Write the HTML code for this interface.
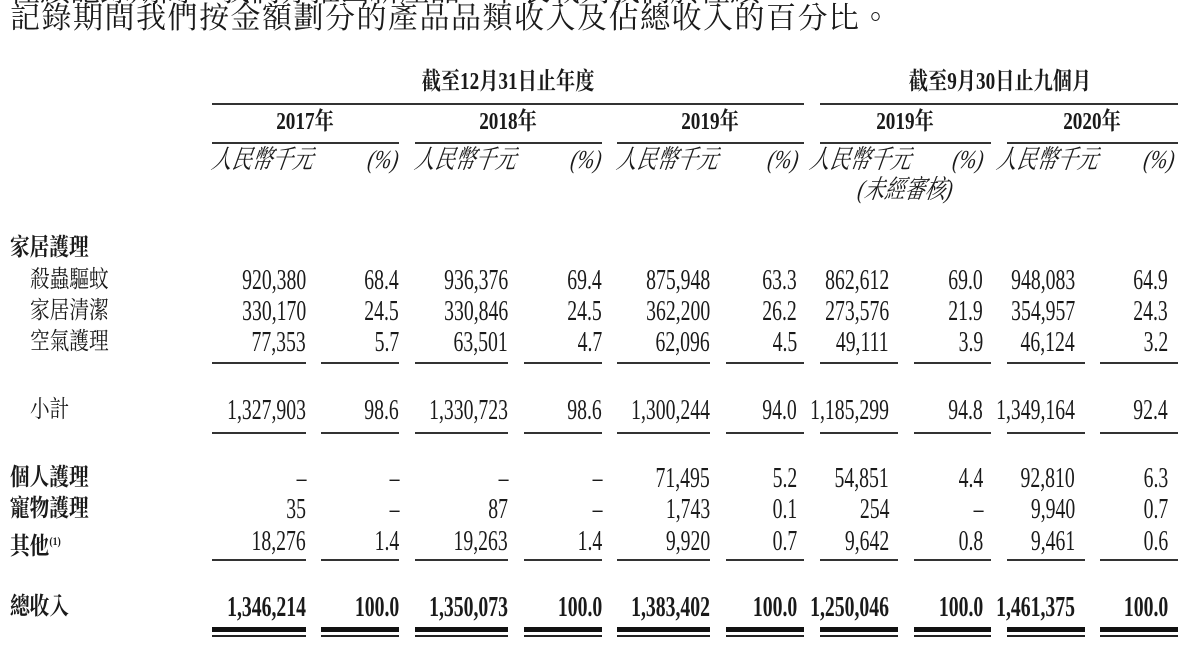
<!DOCTYPE html>
<html><head><meta charset="utf-8"><style>
body{margin:0;width:1193px;height:649px;background:#fff;position:relative;overflow:hidden;color:#1a1a1a}
div{position:absolute;white-space:nowrap}
.n{font-family:"Liberation Serif","Noto Serif CJK SC",serif;font-size:29px;line-height:32px;transform:scaleX(.68);transform-origin:right center}
.b{font-weight:bold}
.l{font-family:"Liberation Serif","Noto Serif CJK TC","Noto Serif CJK SC",serif;font-size:24px;line-height:32px;transform:scaleX(.82);transform-origin:left center}
.c{font-family:"Liberation Serif","Noto Serif CJK SC",serif;font-size:24px;line-height:32px;font-weight:bold;transform:translateX(-50%) scaleX(.8)}
.u{font-family:"Liberation Serif","Noto Serif CJK TC","Noto Serif CJK SC",serif;font-size:26px;line-height:30px;font-style:italic;transform:scaleX(.78) skewX(-12deg);transform-origin:left center}
.ln{background:#333;height:2px}
.t{font-family:"Liberation Serif","Noto Serif CJK TC","Noto Serif CJK SC",serif;font-size:30px;line-height:36px}
</style></head><body>
<div class="t" style="left:10px;top:-26px">往績記錄期間，我們亦推出新產品。下表載列我們於往績</div>
<div class="t" style="left:10px;top:1px;letter-spacing:1.5px">記錄期間我們按金額劃分的產品品類收入及佔總收入的百分比。</div>

<div class="c" style="left:508px;top:66px">截至12月31日止年度</div>
<div class="c" style="left:1000px;top:66px">截至9月30日止九個月</div>
<div class="ln" style="left:212px;top:103px;width:592px"></div>
<div class="ln" style="left:820px;top:103px;width:358px"></div>
<div class="c" style="left:305px;top:106px">2017年</div>
<div class="c" style="left:508px;top:106px">2018年</div>
<div class="c" style="left:710px;top:106px">2019年</div>
<div class="c" style="left:905px;top:106px">2019年</div>
<div class="c" style="left:1092px;top:106px">2020年</div>
<div class="ln" style="left:212px;top:142px;width:187px"></div>
<div class="ln" style="left:415px;top:142px;width:187px"></div>
<div class="ln" style="left:617px;top:142px;width:187px"></div>
<div class="ln" style="left:820px;top:142px;width:171px"></div>
<div class="ln" style="left:1007px;top:142px;width:171px"></div>

<div class="u" style="left:212px;top:145px">人民幣千元</div>
<div class="u" style="left:415px;top:145px">人民幣千元</div>
<div class="u" style="left:617px;top:145px">人民幣千元</div>
<div class="u" style="left:810px;top:145px">人民幣千元</div>
<div class="u" style="left:997px;top:145px">人民幣千元</div>
<div class="u" style="left:858px;top:175px">(未經審核)</div>
<div class="u" style="left:368px;top:145px">(%)</div>
<div class="u" style="left:571px;top:145px">(%)</div>
<div class="u" style="left:768px;top:145px">(%)</div>
<div class="u" style="left:953px;top:145px">(%)</div>
<div class="u" style="left:1144px;top:145px">(%)</div>

<div class="l b" style="left:10px;top:232px">家居護理</div>
<div class="l" style="left:30px;top:264px">殺蟲驅蚊</div>
<div class="l" style="left:30px;top:295px">家居清潔</div>
<div class="l" style="left:30px;top:326px">空氣護理</div>
<div class="l" style="left:30px;top:394px">小計</div>
<div class="l b" style="left:10px;top:462px">個人護理</div>
<div class="l b" style="left:10px;top:493px">寵物護理</div>
<div class="l b" style="left:10px;top:525px">其他<sup style="font-size:12px">(1)</sup></div>
<div class="l b" style="left:10px;top:591px">總收入</div>

<div id="rows"></div>
<script>
var R=[306,399,508,602,710,797,889,983,1075,1168];
var rows=[
[264,"",["920,380","68.4","936,376","69.4","875,948","63.3","862,612","69.0","948,083","64.9"]],
[295,"",["330,170","24.5","330,846","24.5","362,200","26.2","273,576","21.9","354,957","24.3"]],
[326,"",["77,353","5.7","63,501","4.7","62,096","4.5","49,111","3.9","46,124","3.2"]],
[394,"",["1,327,903","98.6","1,330,723","98.6","1,300,244","94.0","1,185,299","94.8","1,349,164","92.4"]],
[462,"",["–","–","–","–","71,495","5.2","54,851","4.4","92,810","6.3"]],
[493,"",["35","–","87","–","1,743","0.1","254","–","9,940","0.7"]],
[525,"",["18,276","1.4","19,263","1.4","9,920","0.7","9,642","0.8","9,461","0.6"]],
[591," b",["1,346,214","100.0","1,350,073","100.0","1,383,402","100.0","1,250,046","100.0","1,461,375","100.0"]]];
var h="";
rows.forEach(function(r){r[2].forEach(function(v,i){h+='<div class="n'+r[1]+'" style="right:'+(1193-R[i])+'px;top:'+r[0]+'px">'+v+'</div>';});});
var S=[[212,306],[321,399],[415,508],[524,602],[617,710],[726,804],[820,898],[914,991],[1007,1085],[1100,1178]];
S.forEach(function(s){
[362,432,559].forEach(function(y){h+='<div class="ln" style="left:'+s[0]+'px;top:'+y+'px;width:'+(s[1]-s[0])+'px"></div>';});
h+='<div style="background:#111;left:'+s[0]+'px;top:627px;width:'+(s[1]-s[0])+'px;height:5px"></div>';
h+='<div style="background:#222;left:'+s[0]+'px;top:635px;width:'+(s[1]-s[0])+'px;height:2px"></div>';
});
document.getElementById("rows").outerHTML=h;
</script>
</body></html>
